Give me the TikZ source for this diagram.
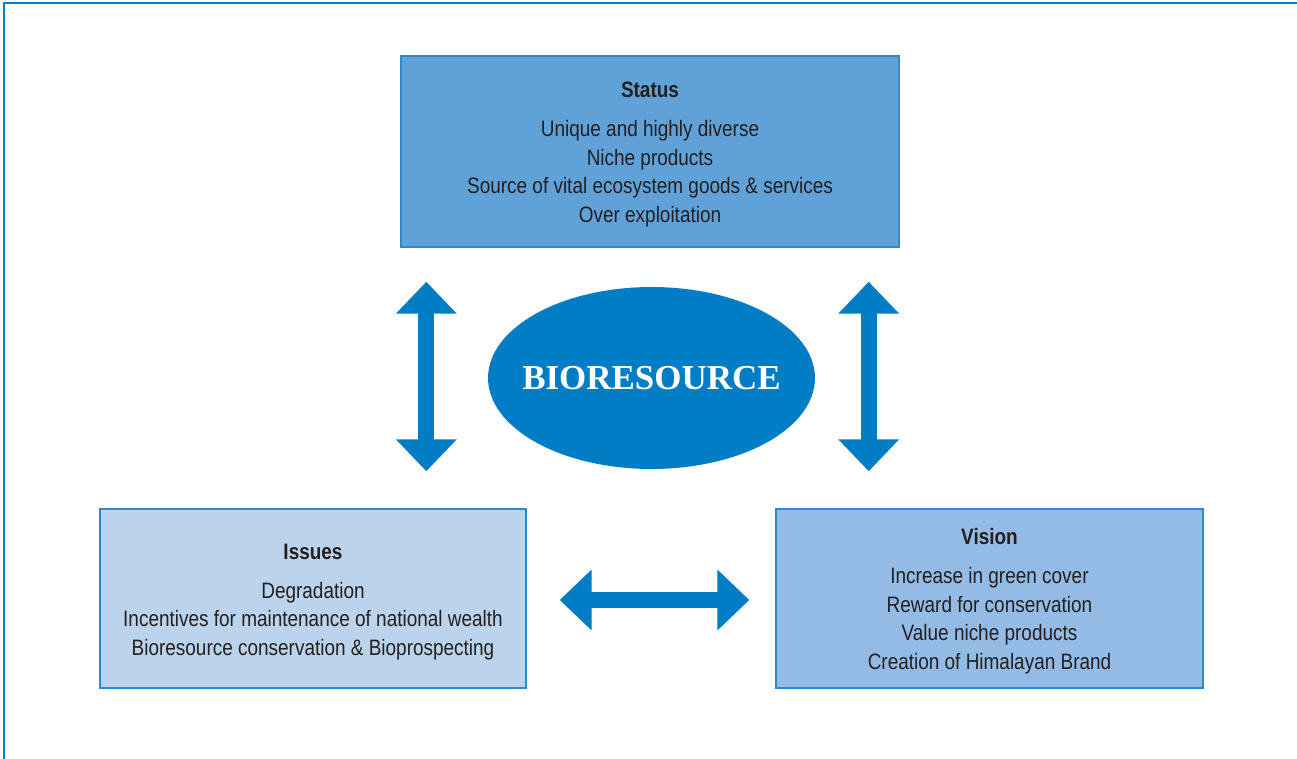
\documentclass[tikz,border=0pt]{standalone}
\usepackage{fontspec}
\setmainfont{Liberation Sans}[FakeStretch=0.85]
\newfontfamily\titlefont{Liberation Serif}
\usetikzlibrary{shapes}
\usetikzlibrary{arrows.meta}
\usetikzlibrary{positioning}

\definecolor{bioblue}{HTML}{007DC5}
\definecolor{framebl}{HTML}{0A7BC8}
\definecolor{edgebl}{HTML}{2A89D0}
\definecolor{statusfill}{HTML}{60A2D8}
\definecolor{issuefill}{HTML}{BBD3EC}
\definecolor{visionfill}{HTML}{94BBE5}
\definecolor{inktext}{HTML}{231F20}

\newcommand{\boxhead}[1]{\rule{0pt}{12.5pt}\textbf{#1}}

\tikzset{
  infobox/.style={draw=edgebl, line width=0.03cm, align=center, inner sep=0pt,
    text=inktext, font=\fontsize{12.7}{16.2}\selectfont},
  bigarrow/.style={draw=bioblue, line width=0.32cm,
    {Triangle[length=0.64cm,width=1.18cm]}-{Triangle[length=0.64cm,width=1.18cm]}}
}

\begin{document}
\begin{tikzpicture}[x=0.02cm,y=-0.02cm]
  \useasboundingbox (0,0) rectangle (1297,759);
  % outer frame, only left and top sides show
  \draw[framebl, line width=0.04cm] (4,759) -- (4,3) -- (1297,3);

  \node[infobox, fill=statusfill, minimum width=9.96cm, minimum height=3.82cm]
    (status) at (650,151.5)
    {\boxhead{Status}\\[6pt]
     Unique and highly diverse\\
     Niche products\\
     Source of vital ecosystem goods \& services\\
     Over exploitation};

  \node[infobox, fill=issuefill, minimum width=8.52cm, minimum height=3.58cm]
    (issues) at (313,598.5)
    {\boxhead{Issues}\\[6pt]
     Degradation\\
     Incentives for maintenance of national wealth\\
     Bioresource conservation \& Bioprospecting};

  \node[infobox, fill=visionfill, minimum width=8.54cm, minimum height=3.58cm]
    (vision) at (989.5,598.5)
    {\boxhead{Vision}\\[6pt]
     Increase in green cover\\
     Reward for conservation\\
     Value niche products\\
     Creation of Himalayan Brand};

  \node[ellipse, fill=bioblue, inner sep=0pt, minimum width=6.54cm, minimum height=3.64cm,
    text=white, font=\titlefont\bfseries\fontsize{19.9}{22}\selectfont]
    (bio) at (651.5,378) {\makebox[0pt]{BIORESOURCE}};

  % links between the boxes
  \draw[bigarrow, shorten <=0.68cm, shorten >=0.74cm]
    ([xshift=0.52cm]status.south west) -- ([xshift=0.52cm]status.south west |- issues.north);
  \draw[bigarrow, shorten <=0.68cm, shorten >=0.74cm]
    ([xshift=-0.62cm]status.south east) -- ([xshift=-0.62cm]status.south east |- vision.north);
  \draw[bigarrow, shorten <=0.66cm, shorten >=0.52cm]
    ([yshift=-0.03cm]issues.east) -- ([yshift=-0.03cm]issues.east -| vision.west);
\end{tikzpicture}
\end{document}
